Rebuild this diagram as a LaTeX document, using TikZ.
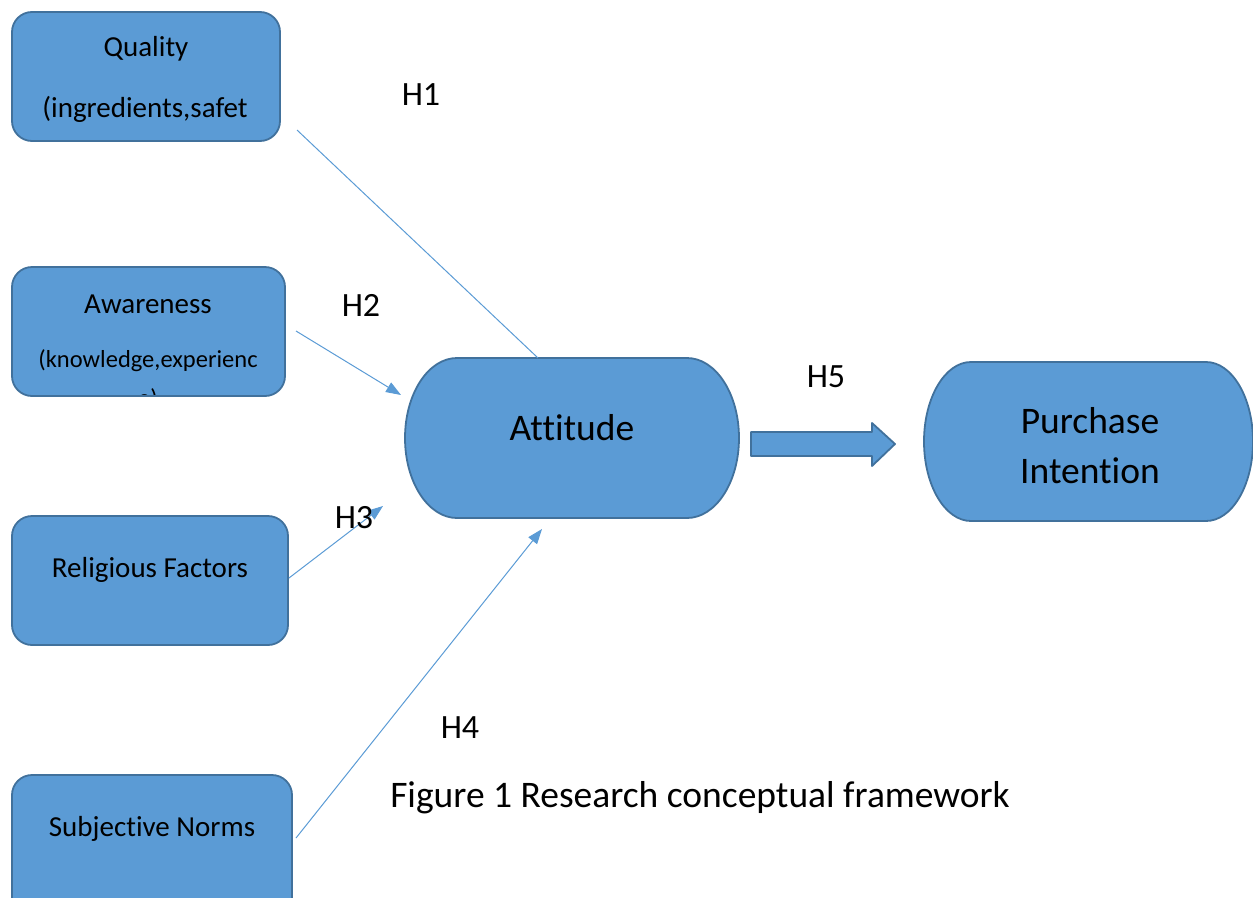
\documentclass[tikz,border=0pt]{standalone}
\usepackage{fontspec}
\setmainfont[Ligatures=NoCommon]{Carlito}
\usetikzlibrary{arrows.meta}
\definecolor{boxfill}{HTML}{5B9BD5}
\definecolor{boxline}{HTML}{41719C}
\begin{document}
\begin{tikzpicture}[x=1pt,y=-1pt,
  factor/.style={draw=boxline,line width=1.8pt,fill=boxfill,rounded corners=20pt},
  pill/.style={draw=boxline,line width=1.8pt,fill=boxfill},
  lbl/.style={font=\fontsize{29}{33}\selectfont,inner sep=0pt},
  sublbl/.style={font=\fontsize{24.5}{28}\selectfont,inner sep=0pt},
  big/.style={font=\fontsize{37.5}{50}\selectfont,inner sep=0pt},
  hyp/.style={font=\fontsize{34}{38}\selectfont,inner sep=0pt},
  link/.style={draw=boxfill,line width=1pt},
  linkarrow/.style={link,-{Triangle[length=15pt,width=11pt]}}]
\useasboundingbox (0,0) rectangle (1253,897);

% factor boxes
\draw[factor] (12,12) rectangle (280,141);
\draw[factor] (12,267) rectangle (285,396);
\draw[factor] (12,516) rectangle (288,645);
\draw[factor] (12,775) rectangle (292,920);

\node[lbl] (qual) at (146,49) {Quality};
\node[lbl] (qualsub) at (145,109) {(ingredients,safet};
\node[lbl] (awar) at (148,304) {Awareness};
\node[sublbl] (awarsub) at (148,361) {(knowledge,experienc};
\begin{scope}
  \clip (12,267) rectangle (285,394);
  \node[sublbl] (awartail) at (148,399) {e)};
\end{scope}
\node[lbl] (relig) at (150,570) {Religious Factors};
\node[lbl] (subj) at (152,829) {Subjective Norms};

% outcome shapes with elliptical ends
\draw[pill] (457,358) -- (687,358) arc[start angle=-90,end angle=90,x radius=52,y radius=80]
  -- (457,518) arc[start angle=90,end angle=270,x radius=52,y radius=80] -- cycle;
\node[big] (att) at (572,428) {Attitude};
\draw[pill] (971,362) -- (1206,362) arc[start angle=-90,end angle=90,x radius=47,y radius=79.5]
  -- (971,521) arc[start angle=90,end angle=270,x radius=47,y radius=79.5] -- cycle;
\node[big,align=center] (pi) at (1090,446) {Purchase\\Intention};

% hypothesised paths
\coordinate (h1s) at (297,130);
\coordinate (h1e) at (538,358);
\coordinate (h2s) at (296,331);
\coordinate (h2e) at (401,395);
\coordinate (h3s) at (289,578);
\coordinate (h3e) at (383,506);
\coordinate (h4s) at (296,838);
\coordinate (h4e) at (542,529);
\draw[link] (h1s) -- (h1e);
\draw[linkarrow] (h2s) -- (h2e);
\draw[linkarrow] (h3s) -- (h3e);
\draw[linkarrow] (h4s) -- (h4e);

% block arrow to purchase intention
\draw[draw=boxline,line width=1.8pt,fill=boxfill,line join=round]
  (751,432) -- (872,432) -- (872,423) -- (895,444) -- (872,466) -- (872,456) -- (751,456) -- cycle;

% hypothesis labels
\node[hyp] (H1) at (421,95) {H1};
\node[hyp] (H2) at (361,305) {H2};
\node[hyp] (H3) at (354,518) {H3};
\node[hyp] (H4) at (460,728) {H4};
\node[hyp] (H5) at (826,377) {H5};

\node[big] (cap) at (700,798) {Figure 1 Research conceptual framework};
\end{tikzpicture}
\end{document}
